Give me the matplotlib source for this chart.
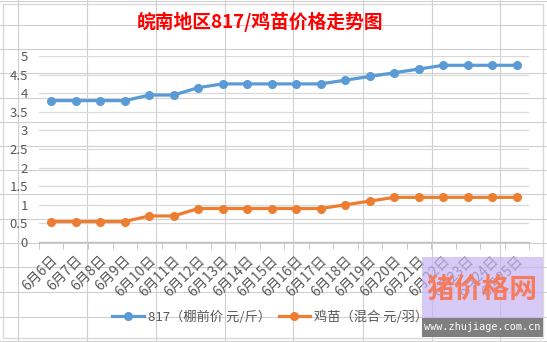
import matplotlib
matplotlib.use("Agg")
import matplotlib.pyplot as plt
import matplotlib.transforms as mtransforms
from matplotlib.patches import Rectangle

plt.rcParams["font.family"] = ["Noto Sans CJK SC", "DejaVu Sans"]

dates = [
    "6月6日", "6月7日", "6月8日", "6月9日", "6月10日",
    "6月11日", "6月12日", "6月13日", "6月14日", "6月15日",
    "6月16日", "6月17日", "6月18日", "6月19日", "6月20日",
    "6月21日", "6月22日", "6月23日", "6月24日", "6月25日",
]
price_817 = [3.8, 3.8, 3.8, 3.8, 3.95, 3.95, 4.15, 4.25, 4.25, 4.25,
             4.25, 4.25, 4.35, 4.45, 4.55, 4.65, 4.75, 4.75, 4.75, 4.75]
price_chick = [0.55, 0.55, 0.55, 0.55, 0.7, 0.7, 0.9, 0.9, 0.9, 0.9,
               0.9, 0.9, 1.0, 1.1, 1.2, 1.2, 1.2, 1.2, 1.2, 1.2]
y_ticks = [0, 0.5, 1, 1.5, 2, 2.5, 3, 3.5, 4, 4.5, 5]

label_817 = "817（棚前价 元/斤）"
label_chick = "鸡苗（混合 元/羽）"
title = "皖南地区817/鸡苗价格走势图"

W, H = 547, 342
fig = plt.figure(figsize=(W / 100, H / 100), dpi=100)

# sheet cells behind the chart
bg = fig.add_axes([0, 0, 1, 1])
bg.set_xlim(0, W)
bg.set_ylim(H, 0)
bg.axis("off")
for cx in [18, 87, 156, 225, 293, 363, 432, 500]:
    bg.plot([cx, cx], [0, H], color="#d0d0d0", lw=0.8)
for ry in [1, 25, 49, 73, 98, 122, 146, 170, 194, 219, 243, 267, 292, 317, 341]:
    bg.plot([0, W], [ry, ry], color="#d0d0d0", lw=0.8)
bg.add_patch(Rectangle((3, 4), 540, 334, facecolor="white",
                       edgecolor="#d9d9d9", lw=1))

ax = fig.add_axes([39 / W, 1 - 242 / H, (529 - 39) / W, (242 - 56) / H])
ax.patch.set_alpha(0)
xs = list(range(len(dates)))
ax.plot(xs, price_817, color="#5b9bd5", lw=2.3, marker="o", ms=5.5,
        label=label_817, zorder=3)
ax.plot(xs, price_chick, color="#ed7d31", lw=2.3, marker="o", ms=5.5,
        label=label_chick, zorder=3)

ax.set_xlim(-0.5, len(dates) - 0.5)
ax.set_ylim(0, 5)
ax.set_yticks(y_ticks)
ax.set_yticklabels([f"{v:g}" for v in y_ticks])
ax.yaxis.grid(True, color="#d9d9d9", lw=0.9)
ax.set_axisbelow(True)
for side in ["top", "right", "left"]:
    ax.spines[side].set_visible(False)
ax.spines["bottom"].set_color("#bfbfbf")
ax.tick_params(axis="y", length=0, pad=8, labelcolor="#595959", labelsize=9.5)

ax.set_xticks(xs)
ax.set_xticklabels(dates, rotation=45, ha="right", va="center",
                   rotation_mode="anchor", fontsize=10, color="#595959")
ax.tick_params(axis="x", which="major", length=0, pad=11.5)
ax.set_xticks([i - 0.5 for i in range(len(dates) + 1)], minor=True)
ax.tick_params(axis="x", which="minor", length=5, color="#bfbfbf")
shift = mtransforms.ScaledTranslation(4 / 100, 0, fig.dpi_scale_trans)
for lbl in ax.get_xticklabels():
    lbl.set_transform(lbl.get_transform() + shift)

fig.legend(loc="center", bbox_to_anchor=(0.494, 1 - 317 / H), ncol=2,
           frameon=False, fontsize=9.5, labelcolor="#595959",
           handlelength=2.4, columnspacing=0.6, handletextpad=0.3)

fig.text(260 / W, 1 - 22 / H, title, color="red", fontsize=13.5,
         fontweight="bold", ha="center", va="center")

# site stamp in the lower right corner
wm = fig.add_axes([422 / W, 1 - 337 / H, 121 / W, 80 / H], zorder=10)
wm.set_xlim(0, 121)
wm.set_ylim(80, 0)
wm.axis("off")
wm.add_patch(Rectangle((0, 0), 121, 61, facecolor="#c8b4f4", alpha=0.7,
                       edgecolor="none"))
wm.add_patch(Rectangle((0, 61), 121, 19, facecolor="#7f7f7f",
                       edgecolor="none"))
wm.text(60, 32, "zhujiage.com.cn", color="#dccdfa", fontsize=9,
        rotation=20, ha="center", va="center", alpha=0.8)
wm.text(60, 33, "猪价格网", color="#f47c5c", fontsize=20,
        fontweight="bold", ha="center", va="center")
wm.text(60, 70.5, "www.zhujiage.com.cn", color="white", fontsize=7.3,
        family="DejaVu Sans Mono", ha="center", va="center")

fig.savefig("out.png", dpi=100)
